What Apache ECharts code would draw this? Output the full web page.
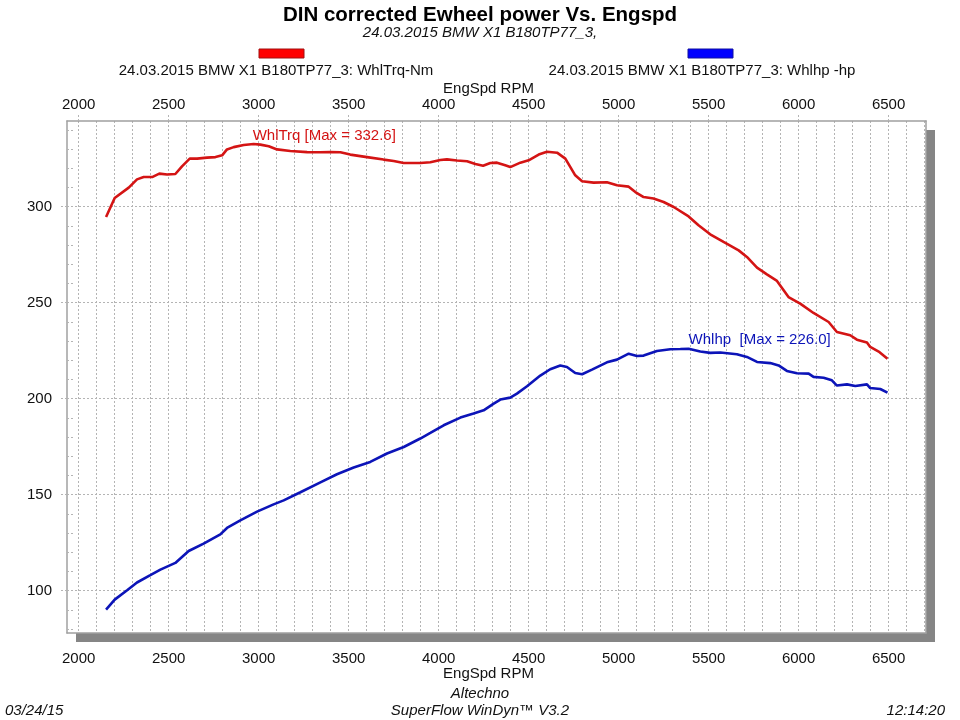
<!DOCTYPE html>
<html><head><meta charset="utf-8">
<script src="https://cdn.jsdelivr.net/npm/echarts@6/dist/echarts.min.js"></script>
<style>html,body{margin:0;padding:0;background:#fff}#c{width:960px;height:720px}</style>
</head><body><div id="c"></div>
<script>
// ---- data ----
const trqName = '24.03.2015 BMW X1 B180TP77_3: WhlTrq-Nm';
const hpName = '24.03.2015 BMW X1 B180TP77_3: Whlhp -hp';
const trqRpm = [2152,2200,2278,2324,2361,2408,2448,2491,2537,2574,2617,2658,2713,2760,2797,2824,2861,2917,2972,3009,3056,3102,3176,3269,3343,3398,3454,3509,3602,3694,3750,3806,3898,3954,4009,4046,4102,4158,4204,4247,4287,4324,4370,4398,4454,4500,4556,4602,4658,4704,4732,4759,4797,4861,4935,4991,5056,5093,5139,5194,5250,5306,5389,5444,5509,5583,5667,5713,5769,5824,5880,5944,6009,6083,6167,6213,6287,6324,6380,6398,6450,6494];
const trqVal = [294.6,304.5,309.9,314.2,315.4,315.4,317.2,316.7,317.0,321.0,325.0,325.0,325.5,325.8,326.7,329.8,331.0,332.1,332.6,332.3,331.4,329.8,329.0,328.4,328.3,328.4,328.3,327.1,325.8,324.5,323.8,322.7,322.7,323.1,324.3,324.6,324.0,323.6,322.2,321.3,322.7,322.9,321.5,320.6,322.9,324.1,327.1,328.6,328.1,325.0,320.6,316.3,313.2,312.5,312.7,311.1,310.4,307.6,305.0,304.2,302.4,299.8,294.9,290.3,285.6,281.6,277.2,273.8,268.2,264.7,261.3,252.9,249.5,244.6,239.9,234.7,233.0,230.7,229.2,226.9,224.2,220.8];
const hpRpm = [2152,2200,2269,2324,2398,2454,2537,2611,2694,2787,2824,2898,2991,3083,3139,3232,3343,3435,3528,3620,3713,3806,3898,3954,4028,4121,4194,4250,4306,4343,4398,4435,4491,4565,4620,4676,4713,4759,4797,4852,4935,4991,5056,5102,5139,5213,5287,5343,5389,5454,5509,5565,5657,5713,5769,5843,5889,5935,5991,6056,6083,6139,6185,6213,6269,6315,6380,6398,6454,6494];
const hpVal = [90.1,95.3,100.2,104.2,108.0,110.9,114.4,120.6,124.5,129.3,132.6,136.6,141.1,144.9,147.0,151.2,156.4,160.6,164.1,167.0,171.4,174.8,179.2,182.1,186.1,190.1,192.2,193.9,197.4,199.5,200.5,202.6,206.4,212.0,215.3,217.2,216.5,213.3,212.7,215.1,218.9,220.3,223.4,222.2,222.4,224.8,225.7,225.8,226.0,224.5,223.8,224.0,223.1,221.7,219.1,218.5,217.3,214.4,213.2,213.0,211.3,210.9,209.5,206.8,207.4,206.6,207.4,205.5,205.0,203.1];
const xLabels = [2000,2500,3000,3500,4000,4500,5000,5500,6000,6500];
const xGrid = [2000,2100,2200,2300,2400,2500,2600,2700,2800,2900,3000,3100,3200,3300,3400,3500,3600,3700,3800,3900,4000,4100,4200,4300,4400,4500,4600,4700,4800,4900,5000,5100,5200,5300,5400,5500,5600,5700,5800,5900,6000,6100,6200,6300,6400,6500,6600,6700];
const yLabels = [100,150,200,250,300];
const yMinor = [80,90,100,110,120,130,140,150,160,170,180,190,200,210,220,230,240,250,260,270,280,290,300,310,320,330,340];
const xRange = [1935, 6708];
const yRange = [77.9, 344.6];

// ---- chart ----
const FONT = '"Liberation Sans", Arial, sans-serif';
const RED = '#d41414', BLUE = '#0c14b8';
const TXT = '#111';
const dotted = {color:'#b4b4b4', type:[2,2], width:1};
const frame = {show:true, lineStyle:{color:'#a0a0a0', width:1.5}};
const plain = v => String(v);
const chart = echarts.init(document.getElementById('c'), null, {renderer:'canvas'});
const pairs = (xs, ys) => xs.map((x,i)=>[x, ys[i]]);
const txt = (t, x, y, o) => Object.assign({type:'text', x, y, style:Object.assign({text:t, fill:TXT, font:'italic 15px ' + FONT, textVerticalAlign:'middle'}, o||{})});

chart.setOption({
  animation:false,
  backgroundColor:'#fff',
  title:{text:'DIN corrected Ewheel power Vs. Engspd', subtext:'24.03.2015 BMW X1 B180TP77_3,', left:'center', top:0, itemGap:-1,
    textStyle:{fontFamily:FONT, fontSize:20.5, fontWeight:'bold', color:'#000'},
    subtextStyle:{fontFamily:FONT, fontSize:15, fontStyle:'italic', color:TXT}},
  grid:{left:67, top:121, width:859, height:512, show:true, backgroundColor:'#fff', borderWidth:0,
    shadowColor:'#858585', shadowOffsetX:9, shadowOffsetY:9, shadowBlur:0},
  xAxis:[
    {type:'value', position:'bottom', min:xRange[0], max:xRange[1], name:'EngSpd RPM', nameLocation:'middle', nameGap:33, nameMoveOverlap:false,
      nameTextStyle:{fontFamily:FONT, fontSize:15, color:TXT, padding:[0,16,0,0]},
      axisLine:frame, axisTick:{show:false, customValues:xGrid},
      axisLabel:{customValues:xLabels, formatter:plain, margin:18, fontFamily:FONT, fontSize:15, color:TXT},
      splitLine:{show:true, lineStyle:dotted}},
    {type:'value', position:'top', min:xRange[0], max:xRange[1], name:'EngSpd RPM', nameLocation:'middle', nameGap:25, nameMoveOverlap:false,
      nameTextStyle:{fontFamily:FONT, fontSize:15, color:TXT, padding:[0,16,0,0]},
      axisLine:frame, axisTick:{show:true, customValues:xLabels, length:8, lineStyle:dotted},
      axisLabel:{customValues:xLabels, formatter:plain, margin:9, fontFamily:FONT, fontSize:15, color:TXT},
      splitLine:{show:false}}
  ],
  yAxis:[
    {type:'value', min:yRange[0], max:yRange[1], position:'left', axisLine:frame,
      axisTick:{show:true, customValues:yLabels, length:8, lineStyle:dotted},
      axisLabel:{customValues:yLabels, formatter:plain, margin:15, fontFamily:FONT, fontSize:15, color:TXT},
      splitLine:{show:true, lineStyle:dotted}},
    {type:'value', min:yRange[0], max:yRange[1], position:'left', axisLine:{show:false},
      axisTick:{show:true, inside:true, customValues:yMinor, length:8, lineStyle:dotted},
      axisLabel:{show:false}, splitLine:{show:false}},
    {type:'value', min:yRange[0], max:yRange[1], position:'right', axisLine:frame,
      axisTick:{show:false}, axisLabel:{show:false}, splitLine:{show:false}}
  ],
  series:[
    {name:trqName, type:'line', data:pairs(trqRpm,trqVal), showSymbol:false, symbol:'none', lineStyle:{color:RED, width:2.6}, itemStyle:{color:RED}, z:3,
      markPoint:{symbol:'circle', symbolSize:0, data:[{type:'max'}],
        label:{show:true, position:[-1,-16], color:RED, fontFamily:FONT, fontSize:15,
          formatter:p=>'WhlTrq [Max = ' + Number(p.value).toFixed(1) + ']'}}},
    {name:hpName, type:'line', data:pairs(hpRpm,hpVal), showSymbol:false, symbol:'none', lineStyle:{color:BLUE, width:2.6}, itemStyle:{color:BLUE}, z:3,
      markPoint:{symbol:'circle', symbolSize:0, data:[{type:'max'}],
        label:{show:true, position:[0,-16], color:BLUE, fontFamily:FONT, fontSize:15,
          formatter:p=>'Whlhp  [Max = ' + Number(p.value).toFixed(1) + ']'}}}
  ],
  graphic:[
    {type:'rect', shape:{x:259, y:49, width:45, height:9}, style:{fill:'#ff0000', stroke:'#a01010', lineWidth:1}},
    {type:'rect', shape:{x:688, y:49, width:45, height:9}, style:{fill:'#0000ff', stroke:'#1010a0', lineWidth:1}},
    txt(trqName, 276, 71, {font:'15px ' + FONT, textAlign:'center'}),
    txt(hpName, 702, 71, {font:'15px ' + FONT, textAlign:'center'}),
    txt('Altechno', 480, 694, {textAlign:'center'}),
    txt('SuperFlow WinDyn\u2122 V3.2', 480, 711, {textAlign:'center'}),
    txt('03/24/15', 5, 711, {textAlign:'left'}),
    txt('12:14:20', 945, 711, {textAlign:'right'})
  ]
});
</script></body></html>
